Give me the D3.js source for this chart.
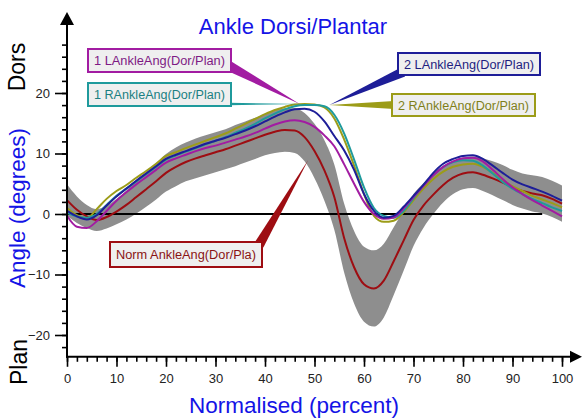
<!DOCTYPE html>
<html>
<head>
<meta charset="utf-8">
<script src="https://cdn.jsdelivr.net/npm/d3@7"></script>
<style>
  body { margin: 0; background: #fff; }
  svg { display: block; }
  text { font-family: "Liberation Sans", Arial, sans-serif; }
</style>
</head>
<body>
<svg id="chart" width="582" height="418"></svg>
<script>
// Gait cycle position (% of stride)
const percent = [0,2,4,6,8,10,12,14,16,18,20,22,24,26,28,30,32,34,36,38,40,42,44,46,48,50,
                 52,54,56,58,60,62,64,66,68,70,72,74,76,78,80,82,84,86,88,90,92,94,96,98,100];

// Normative ankle dorsi/plantar flexion: mean and one standard deviation (degrees)
const normMean = [2.3,0.7,-0.4,-1.0,-0.5,0.4,1.5,2.8,4.1,5.4,6.8,7.8,8.6,9.2,9.7,10.2,10.7,11.3,11.9,12.5,13.1,13.6,13.9,13.8,12.7,10.4,
                  7.2,2.8,-4.0,-8.8,-11.6,-12.3,-11.0,-7.8,-4.4,-1.0,1.4,3.2,4.8,6.0,6.7,6.9,6.5,5.9,5.2,4.4,3.8,3.4,3.1,2.5,1.7];
const normSD   = [2.6,2.2,1.9,1.8,1.9,2.1,2.4,2.7,2.9,3.0,3.1,3.2,3.2,3.3,3.3,3.3,3.3,3.4,3.4,3.4,3.4,3.5,3.6,3.7,4.0,4.5,
                  5.0,5.4,5.7,6.0,6.2,6.3,6.1,5.6,5.0,4.3,3.7,3.2,2.9,2.7,2.6,2.6,2.7,2.8,2.9,2.9,2.9,3.0,3.0,3.0,3.0];

// Patient trials (degrees)
const lAnkle1 = [-0.3,-2.1,-2.3,-1.2,0.5,2.2,3.6,4.9,6.1,7.3,8.5,9.2,9.8,10.4,10.9,11.3,11.8,12.3,12.8,13.4,14.1,14.8,15.3,15.5,15.2,14.4,
                 13.0,11.2,8.2,5.0,2.0,0.0,-0.8,-0.6,0.9,2.8,4.6,6.4,7.8,8.7,9.2,9.3,8.7,7.3,5.8,4.4,3.3,2.3,1.4,0.5,-0.4];
const rAnkle1 = [0.2,-0.4,-0.6,0.0,1.5,3.0,4.2,5.4,6.6,7.8,9.0,9.7,10.3,10.9,11.5,12.1,12.7,13.4,14.1,14.9,15.8,16.6,17.3,17.8,18.0,18.0,
                 17.8,16.4,13.3,9.0,4.4,1.0,-0.3,-0.6,0.5,2.6,4.7,6.5,7.8,8.6,8.9,8.8,8.0,6.7,5.3,4.2,3.3,2.5,1.8,1.1,0.5];
const lAnkle2 = [0.5,-0.4,-0.9,-0.2,1.4,2.9,4.2,5.5,6.7,7.9,9.1,9.8,10.4,11.0,11.6,12.1,12.6,13.2,13.8,14.5,15.3,16.1,16.8,17.3,17.4,16.9,
                 15.3,12.9,10.5,7.3,3.3,0.5,-0.6,-0.3,1.2,3.0,4.8,6.8,8.3,9.1,9.6,9.7,9.1,8.0,6.8,5.7,4.9,4.3,3.7,3.0,2.2];
const rAnkle2 = [1.0,-0.2,-0.7,0.8,2.5,3.8,4.8,6.0,7.1,8.3,9.6,10.2,10.9,11.5,12.1,12.7,13.3,14.1,14.9,15.7,16.5,17.2,17.7,18.1,18.2,18.1,
                 17.6,15.8,12.3,8.0,3.3,-0.3,-1.3,-1.1,0.3,2.3,4.2,5.8,7.0,7.8,8.2,8.3,7.8,6.8,5.6,4.6,3.8,3.0,2.4,1.8,1.1];

// Axis ticks
const xMajorTicks = [0,10,20,30,40,50,60,70,80,90,100];
const xMinorTicks = [0,2,4,6,8,10,12,14,16,18,20,22,24,26,28,30,32,34,36,38,40,42,44,46,48,50,
                     52,54,56,58,60,62,64,66,68,70,72,74,76,78,80,82,84,86,88,90,92,94,96,98,100];
const yMajorTicks = [-20,-10,0,10,20];
const yMinorTicks = [-22,-20,-18,-16,-14,-12,-10,-8,-6,-4,-2,0,2,4,6,8,10,12,14,16,18,20,22,24,26,28];

// Trace labels
const traceLabels = ["1 LAnkleAng(Dor/Plan)","1 RAnkleAng(Dor/Plan)","2 LAnkleAng(Dor/Plan)","2 RAnkleAng(Dor/Plan)","Norm AnkleAng(Dor/Pla)"];

// ---------- layout ----------
const svg = d3.select("#chart");
svg.append("rect").attr("width",582).attr("height",418).attr("fill","#fff");

const x = d3.scaleLinear().domain([0,100]).range([67,562]);
const y = d3.scaleLinear().domain([-20,20]).range([335,93]);
const yBottom = -23.6;

const colors = {
  norm: "#9e0d12", band: "#8e8e8e",
  l1: "#a21ca2", r1: "#1f9a9c", l2: "#1e1e98", r2: "#9c9c18",
  text: { l1:"#7e1a84", r1:"#1b7f82", l2:"#1e1e80", r2:"#7f7f1a", norm:"#8a1414" }
};

// Normative band (mean ± SD)
const band = d3.area()
  .x((d,i) => x(percent[i]))
  .y0((d,i) => y(normMean[i] - normSD[i]))
  .y1((d,i) => y(normMean[i] + normSD[i]))
  .curve(d3.curveMonotoneX);
svg.append("path").datum(normMean).attr("d", band).attr("fill", colors.band);

// Zero reference line
svg.append("line")
  .attr("x1", x(0)).attr("x2", x(96))
  .attr("y1", y(0)).attr("y2", y(0))
  .attr("stroke", "#000").attr("stroke-width", 2);

// Traces
const line = d3.line().x((d,i) => x(percent[i])).y(d => y(d)).curve(d3.curveMonotoneX);
const traces = [
  {data: normMean, color: colors.norm},
  {data: rAnkle2, color: colors.r2},
  {data: rAnkle1, color: colors.r1},
  {data: lAnkle1, color: colors.l1},
  {data: lAnkle2, color: colors.l2}
];
traces.forEach(t => {
  svg.append("path").datum(t.data).attr("d", line)
    .attr("fill","none").attr("stroke", t.color).attr("stroke-width", 2)
    .attr("stroke-linejoin","round");
});

// ---------- axes ----------
const axisColor = "#000";
const gy = svg.append("g").attr("transform", `translate(${x(0)},0)`);
gy.call(d3.axisLeft(y).tickValues(yMinorTicks).tickSize(5).tickFormat(""));
gy.selectAll(".tick line").attr("stroke-width", 1.6);
const gyMaj = svg.append("g").attr("transform", `translate(${x(0)},0)`);
gyMaj.call(d3.axisLeft(y).tickValues(yMajorTicks).tickSize(12).tickPadding(5).tickFormat(d3.format("d")));
gyMaj.selectAll(".tick line").attr("stroke-width", 1.6);
gyMaj.selectAll(".tick text").attr("font-size", 13).attr("fill", "#222")
  .attr("font-family", '"Liberation Sans", Arial, sans-serif');
svg.selectAll(".domain").remove();

const gx = svg.append("g").attr("transform", `translate(0,${y(yBottom)})`);
gx.call(d3.axisBottom(x).tickValues(xMinorTicks).tickSize(5).tickFormat(""));
gx.selectAll(".tick line").attr("stroke-width", 1.6);
const gxMaj = svg.append("g").attr("transform", `translate(0,${y(yBottom)})`);
gxMaj.call(d3.axisBottom(x).tickValues(xMajorTicks).tickSize(10).tickPadding(7));
gxMaj.selectAll(".tick line").attr("stroke-width", 1.6);
gxMaj.selectAll(".tick text").attr("font-size", 13).attr("fill", "#222")
  .attr("font-family", '"Liberation Sans", Arial, sans-serif');
svg.selectAll(".domain").remove();

// Axis lines with arrow heads
const y0px = y(yBottom);
svg.append("line").attr("x1", x(0)).attr("x2", x(0)).attr("y1", y0px + 1).attr("y2", 24)
  .attr("stroke", axisColor).attr("stroke-width", 2);
svg.append("path").attr("d", `M${x(0)-7},25 L${x(0)+7},25 L${x(0)},12 Z`).attr("fill", axisColor);
svg.append("line").attr("x1", x(0) - 1).attr("x2", 572).attr("y1", y0px).attr("y2", y0px)
  .attr("stroke", axisColor).attr("stroke-width", 2);
svg.append("path").attr("d", `M570,${y0px-6} L570,${y0px+6} L582,${y0px} Z`).attr("fill", axisColor);

// ---------- titles ----------
svg.append("text").attr("x", 293).attr("y", 34).attr("text-anchor","middle")
  .attr("font-size", 22).attr("fill", "#1414e6").text("Ankle Dorsi/Plantar");
svg.append("text").attr("x", 294).attr("y", 413).attr("text-anchor","middle")
  .attr("font-size", 22.5).attr("fill", "#1414e6").text("Normalised (percent)");
svg.append("text").attr("transform", "translate(25,208) rotate(-90)").attr("text-anchor","middle")
  .attr("font-size", 22.5).attr("fill", "#1414e6").text("Angle (degrees)");
svg.append("text").attr("transform", "translate(25,67) rotate(-90)").attr("text-anchor","middle")
  .attr("font-size", 23).attr("fill", "#000").text("Dors");
svg.append("text").attr("transform", "translate(27,362) rotate(-90)").attr("text-anchor","middle")
  .attr("font-size", 23).attr("fill", "#000").text("Plan");

// ---------- callouts ----------
function wedge(bx, by, tx, ty, hw) {
  const dx = tx - bx, dy = ty - by, len = Math.hypot(dx, dy);
  const px = -dy / len * hw, py = dx / len * hw;
  return `M${bx+px},${by+py} L${bx-px},${by-py} L${tx},${ty} Z`;
}

const callouts = [
  {label: traceLabels[0], key:"l1", box:[88,49,143,23], base:[229,66], tip:[47,18.2], hw:5},
  {label: traceLabels[1], key:"r1", box:[88,83,143,23], base:[229,104], tip:[47.5,18.2], hw:1.2},
  {label: traceLabels[2], key:"l2", box:[398,53,142,22], base:[403,72], tip:[53,18.0], hw:5},
  {label: traceLabels[3], key:"r2", box:[392,94,143,22], base:[394,105], tip:[53,18.0], hw:4},
  {label: traceLabels[4], key:"norm", box:[110,242,152,25], base:[259,245], tip:[48.7,8.9], hw:5}
];

callouts.forEach(c => {
  svg.append("path").attr("d", wedge(c.base[0], c.base[1], x(c.tip[0]), y(c.tip[1]), c.hw))
    .attr("fill", colors[c.key]);
});
callouts.forEach(c => {
  const col = colors[c.key];
  const [bx, by, bw, bh] = c.box;
  svg.append("rect").attr("x", bx).attr("y", by).attr("width", bw).attr("height", bh)
    .attr("fill", "#efefef").attr("stroke", col).attr("stroke-width", 2);
  svg.append("text").attr("x", bx + 6).attr("y", by + bh / 2 + 4.5)
    .attr("font-size", 12).attr("fill", colors.text[c.key])
    .attr("textLength", bw - 12).attr("lengthAdjust", "spacingAndGlyphs")
    .text(c.label);
});
</script>
</body>
</html>
